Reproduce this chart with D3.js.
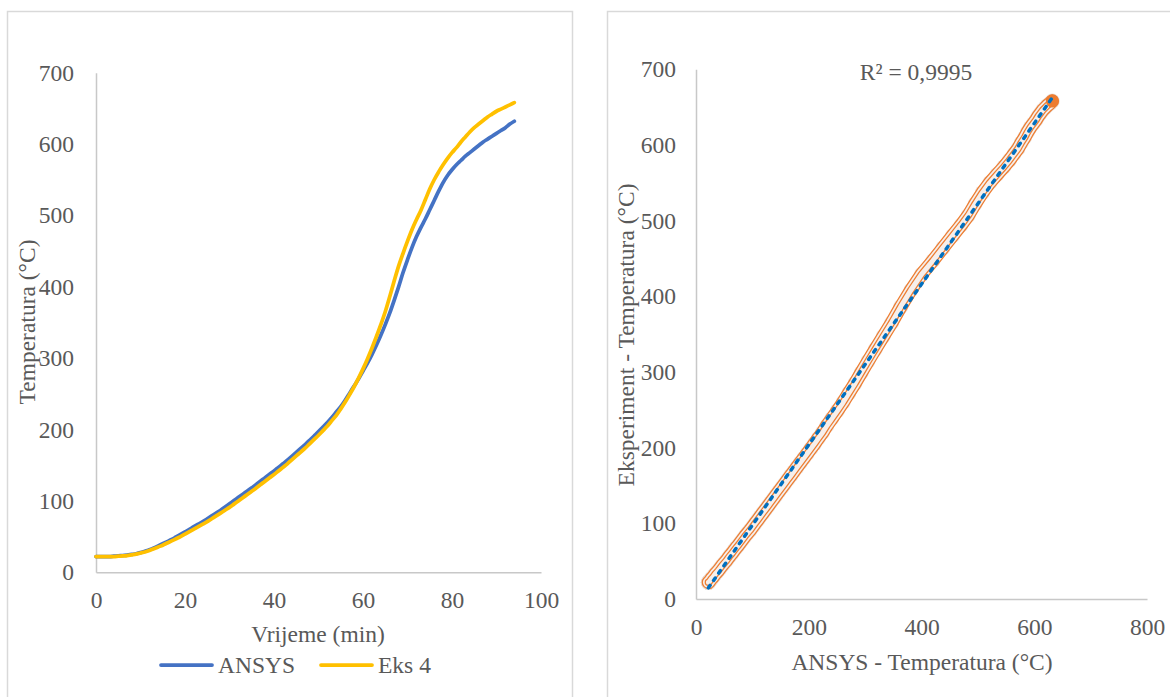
<!DOCTYPE html>
<html>
<head>
<meta charset="utf-8">
<script src="https://cdn.jsdelivr.net/npm/d3@7"></script>
<style>
  html, body { margin: 0; padding: 0; background: #ffffff; }
  svg { display: block; }
  text { font-family: "Liberation Serif", "Times New Roman", serif; fill: #595959; }
</style>
</head>
<body>
<svg id="chart" width="1170" height="697"></svg>
<script>
// ---------- data ----------
const times = [0,1,2,3,4,5,6,7,8,9,10,11,12,13,14,15,16,17,18,19,20,21,22,23,24,25,26,27,28,29,30,31,32,33,34,35,36,37,38,39,40,41,42,43,44,45,46,47,48,49,50,51,52,53,54,55,56,57,58,59,60,61,62,63,64,65,66,67,68,69,70,71,72,73,74,75,76,77,78,79,80,81,82,83,84,85,86,87,88,89,90,91,92,93,94];
const ansys = [22,22,22,22,22.5,23,23.5,24,25,26,27.5,29.5,31.5,34,37,40,43,46,49.5,53,56.5,60,64,67.5,71,75,79,83,87,91.5,96,100.5,105,109.5,114,118.5,123,128,132.5,137.5,142,147,152,157,162.5,168,173.5,179,185,191,197,203.5,210,217,224.5,232,241,251,261,271,282,293,305,318,332,347,363,381,400,420,438,455,470,483,495,508,521,534,546,556,564,571,577,583,588,593,598,603,607,611,615,619,623,628,632];
const eks4 = [22,22,22,22,22,22.5,23,23.5,24.5,25.5,27,28.5,30.5,33,35.5,38,41,44,47,50,53.5,57,60.5,64,67.5,71,75,79,83,87,91,95.5,100,104.5,109,113.5,118,123,127.5,132.5,137,142,147,152,157.5,163,168.5,174,180,186,192,198.5,205,212.5,220,229,238.5,249,260,272,285,299,314,330,347,365,386,408,429,447,464,480,494,507,522,537,550,561,571,580,588,595,603,610,617,623,628,633,638,642,646,649,652,655,658];
const seriesNames = ["ANSYS", "Eks 4"];
const seriesColors = ["#4472C4", "#FFC000"];
const leftXTicks = [0,20,40,60,80,100];
const yTicks = [0,100,200,300,400,500,600,700];
const rightXTicks = [0,200,400,600,800];
const leftXTitle = "Vrijeme (min)";
const leftYTitle = "Temperatura (°C)";
const rightXTitle = "ANSYS - Temperatura (°C)";
const rightYTitle = "Eksperiment - Temperatura (°C)";
const r2Label = "R² = 0,9995";

// ---------- setup ----------
const svg = d3.select("#chart");
const FS = 23.5;
const FONT = "Liberation Serif";
const axisColor = "#c8c8c8";
const borderColor = "#d9d9d9";

// panels
svg.append("rect").attr("x", 7.5).attr("y", 11.5).attr("width", 565).attr("height", 720)
  .attr("fill", "#fff").attr("stroke", borderColor).attr("stroke-width", 1.5);
svg.append("rect").attr("x", 607.5).attr("y", 11.5).attr("width", 600).attr("height", 720)
  .attr("fill", "#fff").attr("stroke", borderColor).attr("stroke-width", 1.5);

function styleAxis(g) {
  g.attr("font-family", FONT);
  g.select(".domain").attr("stroke", axisColor).attr("stroke-width", 1.5);
  g.selectAll(".tick line").remove();
  g.selectAll(".tick text").attr("font-size", FS).attr("font-family", FONT).attr("fill", "#595959");
}
function addText(x, y, str, rotate) {
  const t = svg.append("text").attr("font-size", FS).attr("font-family", FONT)
    .attr("fill", "#595959").attr("text-anchor", "middle").text(str);
  if (rotate) t.attr("transform", `translate(${x},${y}) rotate(-90)`);
  else t.attr("x", x).attr("y", y);
  return t;
}

// ---------- left chart ----------
const xL = d3.scaleLinear().domain([0, 100]).range([96, 541]);
const yL = d3.scaleLinear().domain([0, 700]).range([572.3, 72.7]);

svg.append("g").attr("transform", `translate(0,${yL(0)})`)
  .call(d3.axisBottom(xL).tickValues(leftXTicks).tickSize(0).tickPadding(19).tickSizeOuter(0))
  .call(styleAxis);
svg.append("g").attr("transform", `translate(${xL(0)},0)`)
  .call(d3.axisLeft(yL).tickValues(yTicks).tickSize(0).tickPadding(22).tickSizeOuter(0))
  .call(styleAxis);

const lineGen = (vals) => d3.line()
  .x((d, i) => xL(times[i]))
  .y(d => yL(d))
  .curve(d3.curveMonotoneX)(vals);

[ansys, eks4].forEach((vals, k) => {
  svg.append("path").attr("d", lineGen(vals))
    .attr("fill", "none").attr("stroke", seriesColors[k])
    .attr("stroke-width", 3.75).attr("stroke-linecap", "round").attr("stroke-linejoin", "round");
});

addText(318, 642, leftXTitle);
addText(35, 322, leftYTitle, true);

// legend
const legendItems = [{x: 161, tx: 218}, {x: 321, tx: 378}];
seriesNames.forEach((name, k) => {
  const it = legendItems[k];
  svg.append("line").attr("x1", it.x).attr("x2", it.x + 51).attr("y1", 665).attr("y2", 665)
    .attr("stroke", seriesColors[k]).attr("stroke-width", 3.75).attr("stroke-linecap", "round");
  svg.append("text").attr("x", it.tx).attr("y", 673).attr("font-size", FS)
    .attr("font-family", FONT).attr("fill", "#595959").text(name);
});

// ---------- right chart ----------
const xR = d3.scaleLinear().domain([0, 800]).range([696, 1147]);
const yR = d3.scaleLinear().domain([0, 700]).range([599, 69.3]);

svg.append("g").attr("transform", `translate(0,${yR(0)})`)
  .call(d3.axisBottom(xR).tickValues(rightXTicks).tickSize(0).tickPadding(19).tickSizeOuter(0))
  .call(styleAxis);
svg.append("g").attr("transform", `translate(${xR(0)},0)`)
  .call(d3.axisLeft(yR).tickValues(yTicks).tickSize(0).tickPadding(20).tickSizeOuter(0))
  .call(styleAxis);

const pairs = ansys.map((a, i) => [a, eks4[i]]);

// dense markers: filled discs plus overlapping ring outlines forming a ribbon
const gM = svg.append("g");
gM.selectAll("circle").data(pairs).join("circle")
  .attr("cx", d => xR(d[0])).attr("cy", d => yR(d[1])).attr("r", 7.5)
  .attr("fill", "#e9e0db");
const ribbon = d3.line().x(d => xR(d[0])).y(d => yR(d[1]))(pairs);
[[13.5, "#ED7D31"], [11, "#f6efeb"], [7.5, "#ED7D31"], [5, "#f6efeb"]].forEach(([w, c]) => {
  gM.append("path").attr("d", ribbon).attr("fill", "none").attr("stroke", c)
    .attr("stroke-width", w).attr("stroke-linecap", "round").attr("stroke-linejoin", "round");
});
// last marker solid
const last = pairs[pairs.length - 1];
gM.append("circle").attr("cx", xR(last[0])).attr("cy", yR(last[1])).attr("r", 6.5)
  .attr("fill", "#ED7D31");

// linear trendline (least squares)
const mx = d3.mean(pairs, d => d[0]), my = d3.mean(pairs, d => d[1]);
const slope = d3.sum(pairs, d => (d[0] - mx) * (d[1] - my)) / d3.sum(pairs, d => (d[0] - mx) ** 2);
const icpt = my - slope * mx;
const xMin = d3.min(pairs, d => d[0]), xMax = d3.max(pairs, d => d[0]);
svg.append("line")
  .attr("x1", xR(xMin)).attr("y1", yR(icpt + slope * xMin))
  .attr("x2", xR(xMax)).attr("y2", yR(icpt + slope * xMax))
  .attr("stroke", "#0070C0").attr("stroke-width", 3.5)
  .attr("stroke-dasharray", "3 6").attr("stroke-linecap", "round");

addText(916, 80, r2Label);
addText(922, 670, rightXTitle);
addText(634, 335, rightYTitle, true);
</script>
</body>
</html>
